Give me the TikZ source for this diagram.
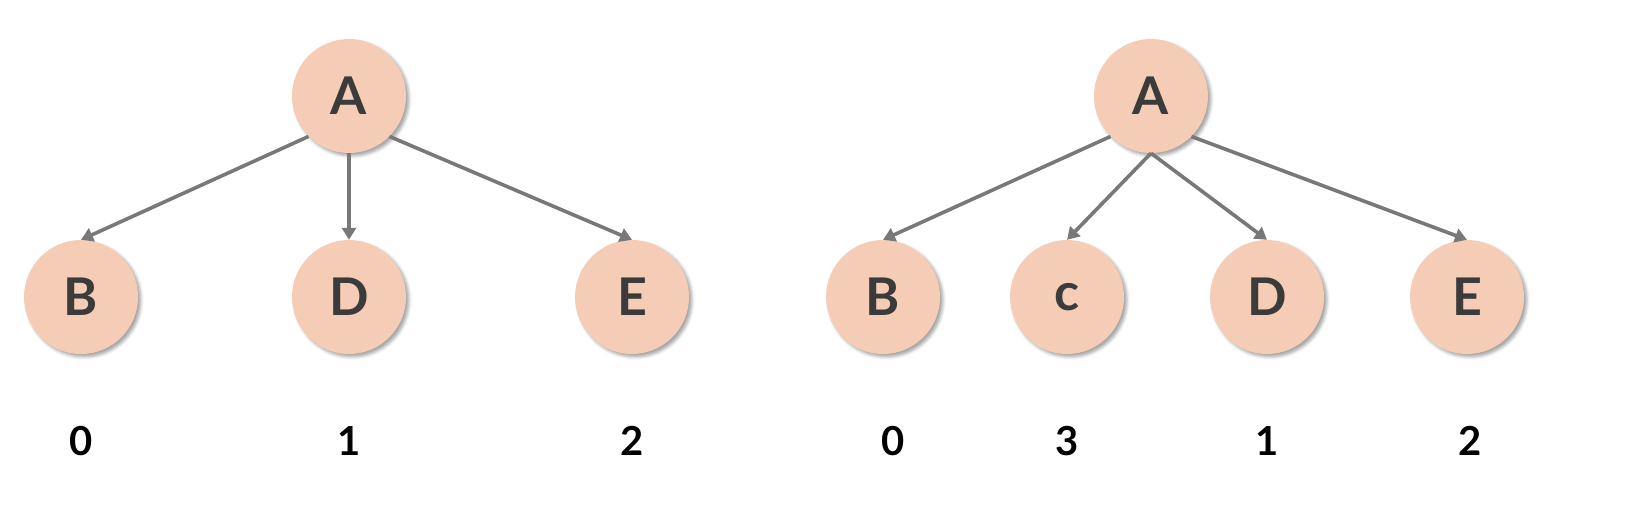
\documentclass[tikz,border=0pt]{standalone}
\usepackage{fontspec}
\setmainfont{Lato}
\usetikzlibrary{arrows.meta,shadows.blur}
\definecolor{nodefill}{HTML}{F5CDB6}
\definecolor{edgegray}{HTML}{787878}
\definecolor{txt}{HTML}{3B3B3B}
\tikzset{
  vnode/.style={circle, fill=nodefill, minimum size=114pt, inner sep=0pt,
    text=txt, font=\fontsize{52}{52}\selectfont\bfseries,
    blur shadow={shadow xshift=3pt, shadow yshift=-3pt, shadow blur radius=3pt, shadow opacity=35}},
  numlbl/.style={text=black, font=\fontsize{40}{40}\selectfont\bfseries},
  edge/.style={draw=edgegray, line width=3.6pt, -{Triangle[length=12pt,width=14pt]}}
}
\begin{document}
\begin{tikzpicture}[x=1pt,y=-1pt]
\useasboundingbox (0,0) rectangle (1644,522);
% left tree
\node[vnode] (LA) at (349,96) {A};
\node[vnode] (LB) at (81,297) {B};
\node[vnode] (LD) at (349,297) {D};
\node[vnode] (LE) at (632,297) {E};
\draw[edge] (LA.225) -- (LB.north);
\draw[edge] (LA.south) -- (LD.north);
\draw[edge] (LA.315) -- (LE.north);
\node[numlbl] (L0) at (81,441) {0};
\node[numlbl] (L1) at (349,441) {1};
\node[numlbl] (L2) at (632,441) {2};
% right tree
\node[vnode] (RA) at (1151,96) {A};
\node[vnode] (RB) at (883,297) {B};
\node[vnode] (RC) at (1067,297) {c};
\node[vnode] (RD) at (1267,297) {D};
\node[vnode] (RE) at (1467,297) {E};
\draw[edge] (RA.225) -- (RB.north);
\draw[edge] (RA.south) -- (RC.north);
\draw[edge] (RA.south) -- (RD.north);
\draw[edge] (RA.315) -- (RE.north);
\node[numlbl] (R0) at (893,441) {0};
\node[numlbl] (R3) at (1067,441) {3};
\node[numlbl] (R1) at (1267,441) {1};
\node[numlbl] (R2) at (1470,441) {2};
\end{tikzpicture}
\end{document}
